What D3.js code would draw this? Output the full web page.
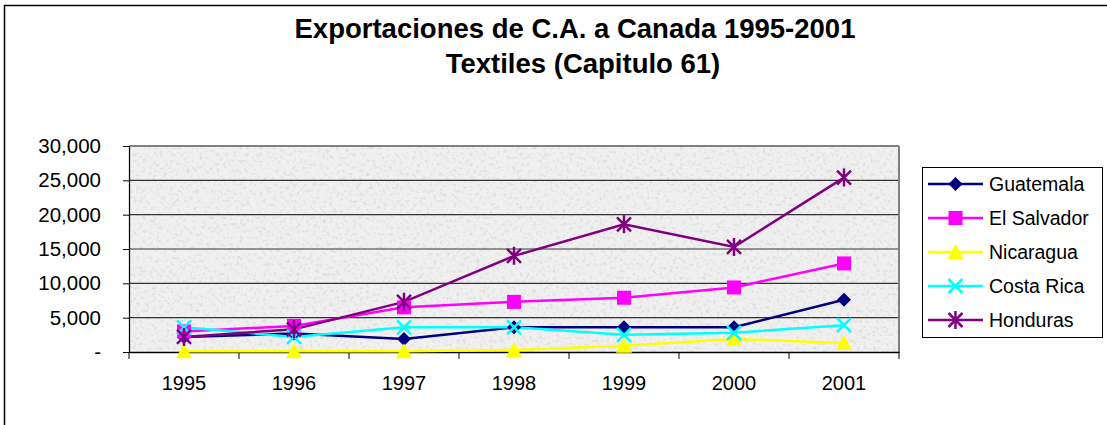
<html>
<script src='https://d3js.org/d3.v7.min.js'></script>
<style>
  body { margin: 0; background: #fff; }
  text { font-family: Arial, 'Liberation Sans', sans-serif; }
</style>
<body>
<svg class="chart" width="1107" height="425"></svg>
<script>
// data
var years = ["1995", "1996", "1997", "1998", "1999", "2000", "2001"];
var guatemala  = [2200, 2700, 1900, 3600, 3600, 3600, 7600];
var elSalvador = [3000, 3800, 6500, 7300, 7900, 9400, 12900];
var nicaragua  = [100, 100, 100, 300, 900, 1900, 1300];
var costaRica  = [3600, 2200, 3600, 3600, 2500, 2800, 3900];
var honduras   = [2200, 3300, 7300, 14000, 18600, 15300, 25400];
var yTicks = [0, 5000, 10000, 15000, 20000, 25000, 30000];
var titleLines = ["Exportaciones de C.A. a Canada 1995-2001", "Textiles (Capitulo 61)"];

var series = [
  {name: "Guatemala",   values: guatemala,  color: "#000080", marker: "diamond"},
  {name: "El Salvador", values: elSalvador, color: "#ff00ff", marker: "square"},
  {name: "Nicaragua",   values: nicaragua,  color: "#ffff00", marker: "triangle"},
  {name: "Costa Rica",  values: costaRica,  color: "#00ffff", marker: "x"},
  {name: "Honduras",    values: honduras,   color: "#800080", marker: "star"}
];

var svg = d3.select(".chart");
var plot = {left: 129, right: 899, top: 146, bottom: 352};
var font = "Arial, 'Liberation Sans', sans-serif";

// outer chart border
svg.append("rect").attr("x", 4.5).attr("y", 5.5).attr("width", 1120).attr("height", 440)
  .attr("fill", "none").attr("stroke", "#000").attr("stroke-width", 1.5);

// granite-like background
var defs = svg.append("defs");
var f = defs.append("filter").attr("id", "granite").attr("x", 0).attr("y", 0).attr("width", 1).attr("height", 1);
f.append("feTurbulence").attr("type", "fractalNoise").attr("baseFrequency", 0.3).attr("numOctaves", 3).attr("seed", 7);
f.append("feColorMatrix").attr("type", "matrix")
  .attr("values", "0 0 0 0 0.60  0 0 0 0 0.58  0 0 0 0 0.59  -2.6 0 0 0 1.25");
f.append("feComposite").attr("in2", "SourceGraphic").attr("operator", "in");

svg.append("rect").attr("x", plot.left).attr("y", plot.top)
  .attr("width", plot.right - plot.left).attr("height", plot.bottom - plot.top)
  .attr("fill", "#f0f0f0");
svg.append("rect").attr("x", plot.left).attr("y", plot.top)
  .attr("width", plot.right - plot.left).attr("height", plot.bottom - plot.top)
  .attr("fill", "#f0f0f0").attr("filter", "url(#granite)").attr("opacity", 0.6);

var x = d3.scaleBand().domain(years).range([plot.left, plot.right]);
var y = d3.scaleLinear().domain([0, 30000]).range([plot.bottom, plot.top]);

// gridlines
svg.append("g").selectAll("line").data(yTicks.slice(1)).enter().append("line")
  .attr("x1", plot.left).attr("x2", plot.right)
  .attr("y1", function(d) { return y(d); }).attr("y2", function(d) { return y(d); })
  .attr("stroke", function(d) { return d == 30000 ? "#808080" : "#333"; })
  .attr("stroke-width", function(d) { return d == 30000 ? 2 : 1.2; });
// right border
svg.append("line").attr("x1", plot.right).attr("x2", plot.right)
  .attr("y1", plot.top).attr("y2", plot.bottom).attr("stroke", "#808080").attr("stroke-width", 2);

// y axis
var yAxis = svg.append("g").attr("transform", "translate(" + plot.left + ",0)")
  .call(d3.axisLeft(y).tickValues(yTicks).tickSize(6).tickPadding(22)
    .tickFormat(function(d) { return d == 0 ? "-" : d3.format(",")(d); }));
yAxis.attr("font-size", null).attr("font-family", null);
yAxis.selectAll("text").attr("fill", "#000").style("font-size", "20.5px").style("font-family", font);
yAxis.selectAll("line, path").attr("stroke", "#000");
yAxis.select(".domain").attr("stroke-width", 1.2);

// x axis
var xAxis = svg.append("g").attr("transform", "translate(0," + plot.bottom + ")")
  .call(d3.axisBottom(x).tickSize(0).tickPadding(24));
xAxis.attr("font-size", null).attr("font-family", null);
xAxis.selectAll("text").attr("fill", "#000").style("font-size", "20px").style("font-family", font);
xAxis.select(".domain").attr("stroke", "#000").attr("stroke-width", 1.5);
xAxis.append("g").selectAll("line").data(years.concat(["end"])).enter().append("line")
  .attr("x1", function(d, i) { return plot.left + i * x.step(); })
  .attr("x2", function(d, i) { return plot.left + i * x.step(); })
  .attr("y1", 0).attr("y2", 7).attr("stroke", "#000");

function cx(i) { return x(years[i]) + x.bandwidth() / 2; }

function drawMarker(g, type, color, px, py) {
  if (type == "diamond") {
    g.append("path").attr("d", "M" + px + "," + (py - 7) + "L" + (px + 7) + "," + py + "L" + px + "," + (py + 7) + "L" + (px - 7) + "," + py + "Z")
      .attr("fill", color);
  } else if (type == "square") {
    g.append("rect").attr("x", px - 7).attr("y", py - 7).attr("width", 14).attr("height", 14).attr("fill", color);
  } else if (type == "triangle") {
    g.append("path").attr("d", "M" + px + "," + (py - 8) + "L" + (px + 8) + "," + (py + 7) + "L" + (px - 8) + "," + (py + 7) + "Z")
      .attr("fill", color);
  } else if (type == "x") {
    g.append("path").attr("d", "M" + (px - 7) + "," + (py - 7) + "L" + (px + 7) + "," + (py + 7) + "M" + (px + 7) + "," + (py - 7) + "L" + (px - 7) + "," + (py + 7))
      .attr("stroke", color).attr("stroke-width", 2.5).attr("fill", "none");
  } else {
    g.append("path").attr("d", "M" + (px - 7) + "," + (py - 7) + "L" + (px + 7) + "," + (py + 7) + "M" + (px + 7) + "," + (py - 7) + "L" + (px - 7) + "," + (py + 7) + "M" + px + "," + (py - 9) + "L" + px + "," + (py + 9))
      .attr("stroke", color).attr("stroke-width", 2.5).attr("fill", "none");
  }
}

// lines and markers
series.forEach(function(s) {
  svg.append("path").datum(s.values)
    .attr("fill", "none").attr("stroke", s.color).attr("stroke-width", 2.5)
    .attr("d", d3.line().x(function(d, i) { return cx(i); }).y(function(d) { return y(d); }));
});
series.forEach(function(s) {
  var g = svg.append("g");
  s.values.forEach(function(v, i) { drawMarker(g, s.marker, s.color, cx(i), y(v)); });
});

// legend
svg.append("rect").attr("x", 922.5).attr("y", 167.5).attr("width", 180).attr("height", 170)
  .attr("fill", "#fff").attr("stroke", "#000").attr("stroke-width", 1);
series.forEach(function(s, i) {
  var ly = 184 + i * 34;
  var g = svg.append("g");
  g.append("line").attr("x1", 928).attr("x2", 983).attr("y1", ly).attr("y2", ly)
    .attr("stroke", s.color).attr("stroke-width", 2.5);
  drawMarker(g, s.marker, s.color, 955.5, ly);
  g.append("text").attr("x", 989).attr("y", ly + 7).style("font-size", "19.5px").text(s.name);
});

// title (second line sits a little right of centre in the original)
svg.append("g").selectAll("text").data(titleLines).enter().append("text")
  .attr("x", function(d, i) { return i == 0 ? 575 : 583; })
  .attr("y", function(d, i) { return 38 + i * 35; })
  .attr("text-anchor", "middle").style("font-size", "27.5px").attr("font-weight", "bold")
  .text(function(d) { return d; });
</script>
</body>
</html>
